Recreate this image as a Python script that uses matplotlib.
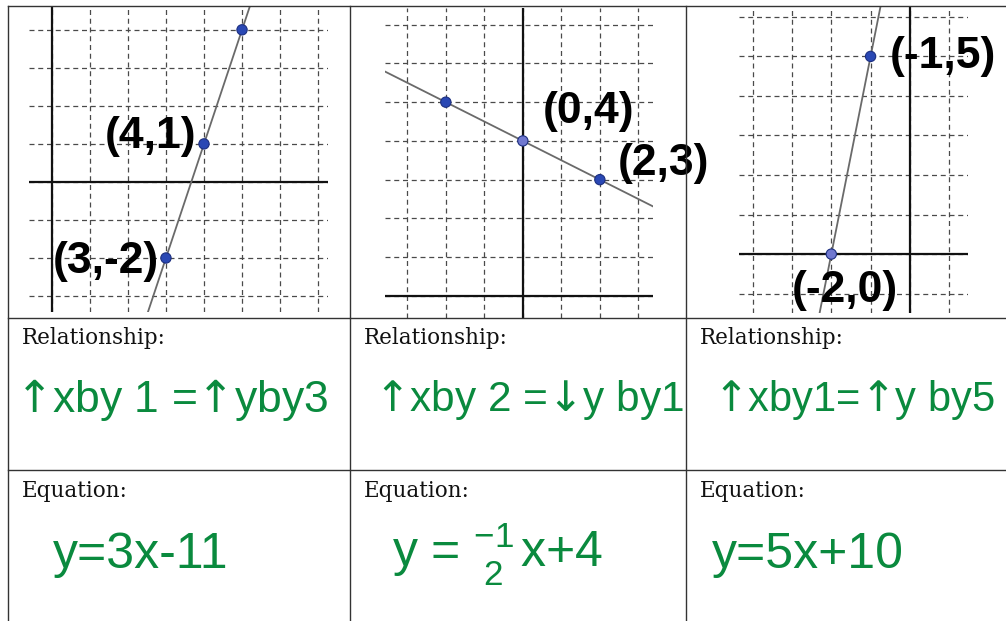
import matplotlib
matplotlib.use("Agg")
import matplotlib.pyplot as plt
import numpy as np

W, H = 1006, 621

# points shown on each graph
p1_x = [3, 4, 5]
p1_y = [-2, 1, 4]
p2_x = [-2, 0, 2]
p2_y = [5, 4, 3]
p3_x = [-2, -1]
p3_y = [0, 5]

# handwritten point labels (index of the point they belong to)
p1_labels = {0: "(3,-2)", 1: "(4,1)"}
p2_labels = {1: "(0,4)", 2: "(2,3)"}
p3_labels = {0: "(-2,0)", 1: "(-1,5)"}

# which point is drawn in the lighter colour
p2_light = [1]
p3_light = [0]

UP, DOWN = r"$\mathsf{↑}$", r"$\mathsf{↓}$"
row_titles = ["Relationship:", "Equation:"]
relationships = [UP + "xby 1 =" + UP + "yby3",
                 UP + "xby 2 =" + DOWN + "y by1",
                 UP + "xby1=" + UP + "y by5"]
equations = ["y=3x-11", r"y = $\genfrac{}{}{0}{}{\mathrm{-1}}{\mathrm{2}}$x+4", "y=5x+10"]

GREEN = "#0a8a3e"
HAND = ["Liberation Sans", "DejaVu Sans"]
plt.rcParams["mathtext.fontset"] = "custom"
plt.rcParams["mathtext.rm"] = "Liberation Sans"
plt.rcParams["mathtext.it"] = "Liberation Sans:italic"
plt.rcParams["mathtext.bf"] = "Liberation Sans:bold"
plt.rcParams["mathtext.sf"] = "DejaVu Sans"

fig = plt.figure(figsize=(W / 100, H / 100), dpi=100)


def px_axes(x0, y0, x1, y1):
    # axes from a pixel box (top-left origin)
    return fig.add_axes([x0 / W, 1 - y1 / H, (x1 - x0) / W, (y1 - y0) / H])


def draw_graph(ax, xs, ys, xlim, ylim, labels, offsets, light=()):
    ax.set_xlim(*xlim)
    ax.set_ylim(*ylim)
    ax.set_facecolor("none")
    for s in ax.spines.values():
        s.set_visible(False)
    ax.set_xticks(np.arange(np.ceil(xlim[0]), xlim[1] + 0.01))
    ax.set_yticks(np.arange(np.ceil(ylim[0]), ylim[1] + 0.01))
    ax.tick_params(length=0, labelbottom=False, labelleft=False)
    ax.grid(True, color="#4a4a4a", lw=0.9, ls=(0, (4, 3)))
    ax.axhline(0, color="#111111", lw=1.6)
    ax.axvline(0, color="#111111", lw=1.6)
    ax.axline((xs[0], ys[0]), (xs[1], ys[1]), color="#6a6a6a", lw=1.3)
    cols = ["#7078d0" if i in light else "#2a48b4" for i in range(len(xs))]
    ax.scatter(xs, ys, s=55, c=cols, edgecolors="#1c2f80", linewidths=0.8, zorder=5)
    for i, txt in labels.items():
        dx, dy, ha = offsets[i]
        ax.annotate(txt, (xs[i], ys[i]), xytext=(dx, dy), textcoords="offset pixels",
                    ha=ha, va="center", fontsize=32, fontweight="bold",
                    family=HAND, color="black", annotation_clip=False, zorder=6)


ax1 = px_axes(29, 7, 328, 312)
draw_graph(ax1, p1_x, p1_y, (-0.6, 7.26), (-3.42, 4.6), p1_labels,
           {0: (-7, -4, "right"), 1: (-8, 7, "right")})

ax2 = px_axes(385, 8, 653, 318)
draw_graph(ax2, p2_x, p2_y, (-3.58, 3.38), (-0.57, 7.43), p2_labels,
           {1: (20, 29, "left"), 2: (18, 16, "left")}, light=p2_light)

ax3 = px_axes(739, 7, 968, 313)
draw_graph(ax3, p3_x, p3_y, (-4.35, 1.48), (-1.49, 6.25), p3_labels,
           {0: (14, -36, "center"), 1: (19, 0, "left")}, light=p3_light)

# table overlay in pixel coordinates
ov = fig.add_axes([0, 0, 1, 1])
ov.set_xlim(0, W)
ov.set_ylim(H, 0)
ov.axis("off")
ov.patch.set_alpha(0)

line_kw = dict(color="#333333", lw=1.0)
ov.plot([8, W], [6, 6], **line_kw)
ov.plot([8, 8], [6, H], **line_kw)
for x in (350, 686):
    ov.plot([x, x], [6, H], **line_kw)
for y in (318, 470):
    ov.plot([8, W], [y, y], **line_kw)

col_left = [8, 350, 686]
for x in col_left:
    ov.text(x + 14, 338, row_titles[0], va="center", ha="left", fontsize=15.5,
            family="DejaVu Serif", color="#111111")
    ov.text(x + 14, 491, row_titles[1], va="center", ha="left", fontsize=15.5,
            family="DejaVu Serif", color="#111111")

rel_x = [15, 374, 713]
rel_size = [32, 30.5, 30]
for x, txt, fs in zip(rel_x, relationships, rel_size):
    ov.text(x, 400, txt, va="center", ha="left", fontsize=fs, family=HAND, color=GREEN)

eq_x = [53, 392, 712]
for x, txt in zip(eq_x, equations):
    ov.text(x, 555, txt, va="center", ha="left", fontsize=36, family=HAND, color=GREEN)

fig.savefig("out.png", dpi=100)
